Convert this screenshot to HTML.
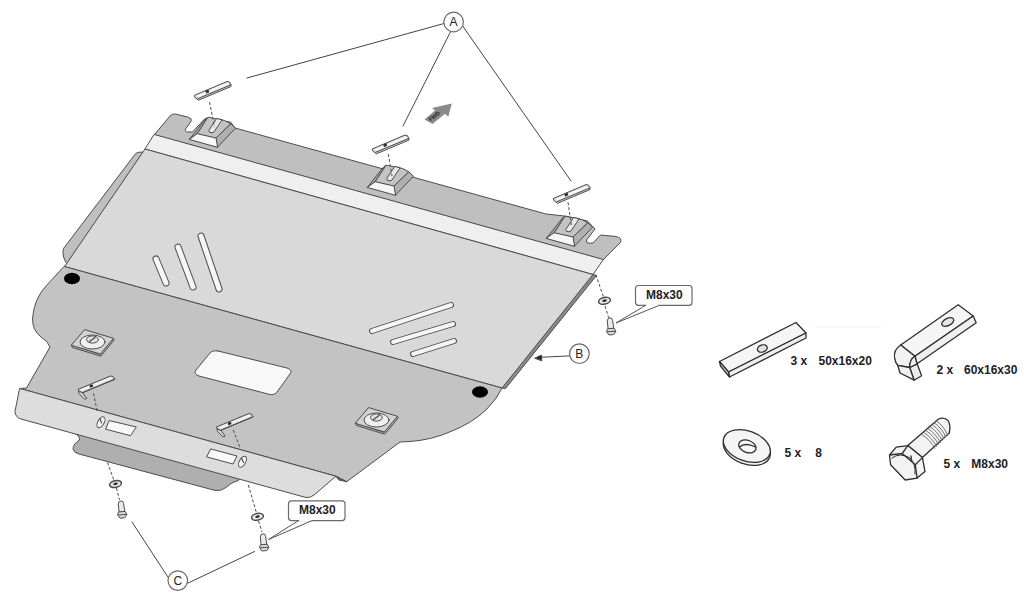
<!DOCTYPE html>
<html><head><meta charset="utf-8"><style>
html,body{margin:0;padding:0;background:#fff;width:1024px;height:602px;overflow:hidden}
svg{display:block}
text{font-family:"Liberation Sans",sans-serif;fill:#222}
</style></head><body>
<svg width="1024" height="602" viewBox="0 0 1024 602">

<path d="M815,327 L882,327" stroke="#f6f6f6" stroke-width="1.5" fill="none"/>
<g stroke="#4d4d4d" stroke-width="1" stroke-linejoin="round" stroke-linecap="round">
<path fill="#bfbfbf" d="M154.5,134.5 L170,116 Q172,113.5 175.5,114 L188.5,117.3 Q192.5,118.5 191,121.5 L185.5,129 Q184.5,132 188,132 L192.5,132 L205,118.5 L230.5,122 L235,128 L546,214 L566,216.2 L587.5,221 L595,229 L586.5,240 Q586,243.2 589,243.2 L593,243 L600.5,235 L616,236.5 Q622.5,238 620.5,242.5 L603.4,259.5 Z"/>
<path fill="#efefef" d="M154.5,134.5 L603.4,259.5 L593,274.5 L145.3,149.1 Z"/>
<path fill="#bfbfbf" d="M143,152 L138.5,152.3 Q136,152.5 134.5,155 L63.5,248.5 Q61.5,256 66.7,263.6 Z"/>
<path fill="#8a8a8a" d="M593,274.5 L596.5,275.5 L505.5,388.5 L502,388 Z"/>
<path fill="#d9d9d9" d="M145.3,149.1 L593,274.5 L502,388 L64.4,266.5 L66.7,263.4 L143,152 Z"/>
<path fill="#afafaf" d="M74,431 L74,433 Q80,436 79.5,440 Q73,444 73,449 Q74,453 79,454 L215,490.4 Q221,491.5 226,487.5 Q230,484 233,482.5 L238.5,480.5 L240,476 Z"/>
<path fill="#c3c3c3" d="M64.4,266.5 L502,388 Q497,399 486,410 Q472,423 452,431 Q432,440 410,441.5 L400,442 L346.7,481.7 L336,476.2 L20,388.5 L26.5,388 L50,347 Q48,341 41,337 Q32,330 32.6,318 Q34,299 46,286 Z"/>
<path fill="#dddddd" d="M20,388.5 L336,476.2 L314,495 Q311,497.8 306,497.5 L21,419 Q15.5,417.5 15,412 Z"/>
<path fill="#6a6a6a" d="M336,476.2 L346.7,481.7 L339,480 Z"/>
<g transform="translate(0,0)"><path fill="#a8a8a8" d="M189.5,139.2 L205.5,119 L208,117.2 L197.2,133.7 Z"/><path fill="#c4c4c4" d="M197.2,133.7 L208,117.2 L224.5,120.5 L230.8,123.8 L216,138 Z"/><path fill="#b0b0b0" d="M216,138 L230.8,123.8 L235.5,128.2 L217.6,147 Z"/><path fill="#f7f7f7" d="M189.5,139.2 L197.2,133.7 L216,138 L217.6,147 Z"/><path fill="#e9e9e9" d="M216.5,118.8 L208.8,130.5 Q208.5,133 212,132.8 L213.8,132.2 L222,120 Z"/></g>
<g transform="translate(178,48)"><path fill="#a8a8a8" d="M189.5,139.2 L205.5,119 L208,117.2 L197.2,133.7 Z"/><path fill="#c4c4c4" d="M197.2,133.7 L208,117.2 L224.5,120.5 L230.8,123.8 L216,138 Z"/><path fill="#b0b0b0" d="M216,138 L230.8,123.8 L235.5,128.2 L217.6,147 Z"/><path fill="#f7f7f7" d="M189.5,139.2 L197.2,133.7 L216,138 L217.6,147 Z"/><path fill="#e9e9e9" d="M216.5,118.8 L208.8,130.5 Q208.5,133 212,132.8 L213.8,132.2 L222,120 Z"/></g>
<g transform="translate(357,99)"><path fill="#a8a8a8" d="M189.5,139.2 L205.5,119 L208,117.2 L197.2,133.7 Z"/><path fill="#c4c4c4" d="M197.2,133.7 L208,117.2 L224.5,120.5 L230.8,123.8 L216,138 Z"/><path fill="#b0b0b0" d="M216,138 L230.8,123.8 L235.5,128.2 L217.6,147 Z"/><path fill="#f7f7f7" d="M189.5,139.2 L197.2,133.7 L216,138 L217.6,147 Z"/><path fill="#e9e9e9" d="M216.5,118.8 L208.8,130.5 Q208.5,133 212,132.8 L213.8,132.2 L222,120 Z"/></g>
<g fill="none">
<path d="M156,259 L166,283" stroke-width="7" stroke="#4d4d4d"/><path d="M156,259 L166,283" stroke-width="5" stroke="#f6f6f6"/>
<path d="M178,247 L193,287" stroke-width="7" stroke="#4d4d4d"/><path d="M178,247 L193,287" stroke-width="5" stroke="#f6f6f6"/>
<path d="M201,236 L219,289" stroke-width="7" stroke="#4d4d4d"/><path d="M201,236 L219,289" stroke-width="5" stroke="#f6f6f6"/>
<path d="M372,331 L451,305" stroke-width="6" stroke="#4d4d4d"/><path d="M372,331 L451,305" stroke-width="4" stroke="#f6f6f6"/>
<path d="M393,342 L453,324" stroke-width="6" stroke="#4d4d4d"/><path d="M393,342 L453,324" stroke-width="4" stroke="#f6f6f6"/>
<path d="M413,354 L454,341" stroke-width="6" stroke="#4d4d4d"/><path d="M413,354 L454,341" stroke-width="4" stroke="#f6f6f6"/>
</g>
<path fill="#f8f8f8" d="M218,351 L287,368 Q293,370 290,374 L277,392 Q274,396 268,394 L199,376 Q193,374 196,370 L210,353 Q213,350 218,351 Z"/>
<ellipse cx="72" cy="278.5" rx="8" ry="5.8" fill="#000" stroke="none"/>
<ellipse cx="480" cy="392" rx="8" ry="5.8" fill="#000" stroke="none"/>
<g transform="translate(0,0)"><path fill="#b8b8b8" d="M71.6,345.4 L72.2,347.4 L100.8,356.2 L114,340.2 L113.5,338.3 L100.4,354 Z"/><path fill="#d2d2d2" d="M85,329.7 L113.5,338.3 L100.4,354 L71.6,345.4 Z"/><ellipse cx="92.5" cy="342" rx="12.5" ry="7" fill="#efefef"/><ellipse cx="92.5" cy="339.5" rx="6" ry="3.6" fill="#e2e2e2"/><path d="M89.5,341.5 L95,337.5" stroke-width="1.4"/></g>
<g transform="translate(284,78)"><path fill="#b8b8b8" d="M71.6,345.4 L72.2,347.4 L100.8,356.2 L114,340.2 L113.5,338.3 L100.4,354 Z"/><path fill="#d2d2d2" d="M85,329.7 L113.5,338.3 L100.4,354 L71.6,345.4 Z"/><ellipse cx="92.5" cy="342" rx="12.5" ry="7" fill="#efefef"/><ellipse cx="92.5" cy="339.5" rx="6" ry="3.6" fill="#e2e2e2"/><path d="M89.5,341.5 L95,337.5" stroke-width="1.4"/></g>
<ellipse cx="101" cy="422.3" rx="3.1" ry="6" fill="#f6f6f6" transform="rotate(30 101 422.3)"/>
<path fill="#f8f8f8" d="M109.5,420.6 L136.3,427 L130.5,435.7 L106,429.3 Z"/>
<path fill="#f8f8f8" d="M211,449 L237,456 L233,464 L207,457 Z"/>
<ellipse cx="242.5" cy="461.7" rx="3.1" ry="6" fill="#f6f6f6" transform="rotate(30 242.5 461.7)"/><path d="M241.5,458 L243.5,462.5" stroke-width="1.2"/><path d="M99.8,418.5 L101.6,423" stroke-width="1.2"/>
<g transform="translate(0,0)"><path fill="#d8d8d8" d="M79,391 L82.5,392.7 L86.8,398.5 L84.5,399.2 L79.3,393.8 Z"/><path fill="#d4d4d4" d="M78.4,389.2 L110.5,376 L113,376.5 L114.7,379.3 L82.5,392.7 L79,391 Z"/><path fill="#f2f2f2" stroke="none" d="M80,389.6 L111,377 L113.2,378.3 L81.8,391.3 Z"/><path fill="none" d="M82.5,392.7 L114.7,379.3"/><path fill="#222" stroke="none" d="M89.5,385.5 L92.5,384.2 L93.2,386.5 L90.2,387.8 Z"/></g>
<g transform="translate(138.3,37.6)"><path fill="#d8d8d8" d="M79,391 L82.5,392.7 L86.8,398.5 L84.5,399.2 L79.3,393.8 Z"/><path fill="#d4d4d4" d="M78.4,389.2 L110.5,376 L113,376.5 L114.7,379.3 L82.5,392.7 L79,391 Z"/><path fill="#f2f2f2" stroke="none" d="M80,389.6 L111,377 L113.2,378.3 L81.8,391.3 Z"/><path fill="none" d="M82.5,392.7 L114.7,379.3"/><path fill="#222" stroke="none" d="M89.5,385.5 L92.5,384.2 L93.2,386.5 L90.2,387.8 Z"/></g>
<g transform="translate(0,0)"><path fill="#d8d8d8" d="M194.7,95.2 L227,81.5 L229.5,82 L231,85 L231,86.5 L198.5,100.2 L195,97.5 Z"/><path fill="#f6f6f6" stroke="none" d="M196.5,95.6 L227.3,82.6 L229.5,84.3 L198.2,97.6 Z"/><path fill="none" d="M198,98.6 L231,84.8"/><path fill="#333" stroke="none" d="M205.3,90.8 L208.5,89.4 L209.3,92.2 L206.1,93.6 Z"/></g>
<g transform="translate(177.9,53.6)"><path fill="#d8d8d8" d="M194.7,95.2 L227,81.5 L229.5,82 L231,85 L231,86.5 L198.5,100.2 L195,97.5 Z"/><path fill="#f6f6f6" stroke="none" d="M196.5,95.6 L227.3,82.6 L229.5,84.3 L198.2,97.6 Z"/><path fill="none" d="M198,98.6 L231,84.8"/><path fill="#333" stroke="none" d="M205.3,90.8 L208.5,89.4 L209.3,92.2 L206.1,93.6 Z"/></g>
<g transform="translate(359,103.1)"><path fill="#d8d8d8" d="M194.7,95.2 L227,81.5 L229.5,82 L231,85 L231,86.5 L198.5,100.2 L195,97.5 Z"/><path fill="#f6f6f6" stroke="none" d="M196.5,95.6 L227.3,82.6 L229.5,84.3 L198.2,97.6 Z"/><path fill="none" d="M198,98.6 L231,84.8"/><path fill="#333" stroke="none" d="M205.3,90.8 L208.5,89.4 L209.3,92.2 L206.1,93.6 Z"/></g>
<g fill="none" stroke-dasharray="3,2" stroke-linecap="butt">
<path d="M209.5,102 L214.5,127"/>
<path d="M388.3,154 L392,176"/>
<path d="M568,202.3 L571.5,226"/>
<path d="M595.8,274.7 L603.4,296.7"/>
<path d="M605,306 L608.6,317.7"/>
<path d="M93.5,393.3 L97.5,412.5"/>
<path d="M107.5,462.5 L114,480.5"/>
<path d="M116.5,488 L119.5,500"/>
<path d="M233.3,430 L240,447.5"/>
<path d="M248.3,485 L256.5,513"/>
<path d="M258.5,521 L262,532"/>
</g>
<g transform="translate(0,0)"><ellipse cx="604.5" cy="300.8" rx="6" ry="3.3" fill="#e6e6e6" stroke-width="1.5" transform="rotate(-12 604.5 300.8)"/><ellipse cx="604.5" cy="300.6" rx="2.3" ry="1.2" fill="#222" stroke="none" transform="rotate(-12 604.5 300.8)"/><path fill="#eaeaea" d="M607.3,320.5 Q607.5,317.8 610,317.8 Q612.5,317.8 612.6,320.3 L613.8,328.5 L608.5,329 Z"/><path fill="#dcdcdc" d="M607.8,328.8 L614.2,328.2 L615.8,331.5 L613.8,334.5 L609,335 L606.8,332 Z"/><path fill="none" d="M607.2,331.8 L615.6,331.2"/></g>
<g transform="translate(-489,183.2)"><ellipse cx="604.5" cy="300.8" rx="6" ry="3.3" fill="#e6e6e6" stroke-width="1.5" transform="rotate(-12 604.5 300.8)"/><ellipse cx="604.5" cy="300.6" rx="2.3" ry="1.2" fill="#222" stroke="none" transform="rotate(-12 604.5 300.8)"/><path fill="#eaeaea" d="M607.3,320.5 Q607.5,317.8 610,317.8 Q612.5,317.8 612.6,320.3 L613.8,328.5 L608.5,329 Z"/><path fill="#dcdcdc" d="M607.8,328.8 L614.2,328.2 L615.8,331.5 L613.8,334.5 L609,335 L606.8,332 Z"/><path fill="none" d="M607.2,331.8 L615.6,331.2"/></g>
<g transform="translate(-347,216)"><ellipse cx="604.5" cy="300.8" rx="6" ry="3.3" fill="#e6e6e6" stroke-width="1.5" transform="rotate(-12 604.5 300.8)"/><ellipse cx="604.5" cy="300.6" rx="2.3" ry="1.2" fill="#222" stroke="none" transform="rotate(-12 604.5 300.8)"/><path fill="#eaeaea" d="M607.3,320.5 Q607.5,317.8 610,317.8 Q612.5,317.8 612.6,320.3 L613.8,328.5 L608.5,329 Z"/><path fill="#dcdcdc" d="M607.8,328.8 L614.2,328.2 L615.8,331.5 L613.8,334.5 L609,335 L606.8,332 Z"/><path fill="none" d="M607.2,331.8 L615.6,331.2"/></g>
<g fill="none" stroke="#444">
<path d="M247,78 L444,23.5"/>
<path d="M450.7,31.4 L403,126"/>
<path d="M462.4,25.7 L571,181"/>
<path d="M167.6,576.6 L132,522"/>
<path d="M187.6,583.3 L254.5,551.5"/>
<path d="M569.5,355.9 L540,357.3"/>
</g>
<path d="M535,358.1 L541.5,355 L541.8,360.5 Z" fill="#222"/>
<path fill="#8a8a8a" stroke="none" d="M424.5,119.5 L435,110.5 L432,108 L451.8,103.5 L448.3,116.8 L445,113.8 L432.5,124 Z"/>
<text x="0" y="0" font-size="5.5" font-weight="bold" fill="#222" stroke="none" transform="translate(430.5,121.5) rotate(-38)">FWD</text>
<circle cx="453.6" cy="22" r="9.8" fill="#fff" stroke="#6a6a6a" stroke-width="1.2"/>
<circle cx="579.4" cy="353.7" r="9.8" fill="#fff" stroke="#6a6a6a" stroke-width="1.2"/>
<circle cx="177.8" cy="580.6" r="9.8" fill="#fff" stroke="#6a6a6a" stroke-width="1.2"/>
<rect x="635.5" y="285.5" width="56.5" height="19.8" rx="3" fill="#fff" stroke="#6a6a6a" stroke-width="1.2"/><path d="M646.7,305.3 L658.4,305.3" stroke="#fff" stroke-width="2"/><path fill="none" stroke="#555" d="M645.7,305.3 L616,323 L659.4,305.3"/>
<rect x="288.5" y="500.8" width="56.5" height="19.8" rx="3" fill="#fff" stroke="#6a6a6a" stroke-width="1.2"/><path d="M299.5,520.6 L311,520.6" stroke="#fff" stroke-width="2"/><path fill="none" stroke="#555" d="M298.5,520.6 L268.5,539.5 L312,520.6"/>
<g stroke="#2e2e2e" stroke-width="1.3">
<path fill="#f5f5f5" d="M719.5,361.5 L796,322.5 L806,333 L728.5,372 Z"/>
<path fill="#eeeeee" d="M728.5,372 L806,333 L806,338 L729.5,377 Z"/>
<path fill="#eeeeee" d="M719.5,361.5 L728.5,372 L729.5,377 L720.5,366 Z"/>
<ellipse cx="762.3" cy="348.5" rx="5" ry="3.5" fill="#e2e2e2" transform="rotate(-20 762.3 348.5)"/>
<path fill="#f5f5f5" d="M900.7,345 L958.2,304.7 L973.2,316 L914.9,356.3 Z"/>
<path fill="#efefef" d="M914.9,356.3 L973.2,316 L976.2,322.7 L917.1,363.8 Z"/>
<path fill="#f2f2f2" d="M900.7,345 Q893,350 894.7,358.5 Q895.5,363 897.7,365.3 L909.7,367.5 Q909.5,359.5 914.9,356.3 Z"/>
<path fill="#ededed" d="M909.7,367.5 L917.1,363.8 L921.6,375.7 L914.1,380.2 Z"/>
<path fill="#f0f0f0" d="M897.7,365.3 L909.7,367.5 L914.1,380.2 L900,373 Z"/>
<path fill="#f0f0f0" d="M914.9,356.3 L917.1,363.8 L909.7,367.5 Q909.5,359.5 914.9,356.3 Z"/>
<ellipse cx="947.8" cy="322" rx="6.5" ry="3.6" fill="#e6e6e6" transform="rotate(-28 947.8 322)"/>
<ellipse cx="746.8" cy="449" rx="24.4" ry="15" fill="#f2f2f2" transform="rotate(20 746.8 449)"/>
<ellipse cx="746.8" cy="446" rx="24.4" ry="15" fill="#f5f5f5" transform="rotate(20 746.8 446)"/>
<ellipse cx="747.4" cy="446.4" rx="9" ry="6" fill="#f7f7f7" transform="rotate(20 747.4 446.4)"/>
<path fill="none" d="M739.5,447 Q745,442 755.5,447"/>
<path fill="#f3f3f3" d="M907.8,445.6 L938.5,419 Q944,416.5 948,420.5 Q951,425 949.3,433 L922.4,457.6 Z"/>
<path fill="none" stroke-width="1" stroke="#777" d="M922.1,434.7 Q930.6,440.0 934.7,448.3 M924.2,432.8 Q932.6,438.1 936.5,446.4 M926.2,430.8 Q934.5,436.1 938.4,444.5 M928.3,428.8 Q936.4,434.2 940.2,442.6 M930.3,426.9 Q938.4,432.3 942.0,440.6 M932.4,424.9 Q940.3,430.3 943.8,438.7 M934.4,422.9 Q942.2,428.4 945.7,436.8 M936.5,421.0 Q944.2,426.4 947.5,434.9 "/>
<path fill="#f3f3f3" d="M889.5,455 L896.2,447.1 L907.8,445.6 L922.4,457.6 L925,471.4 L917.1,478.1 L905.2,480 L890.6,464.7 Z"/>
<path fill="none" d="M889.5,455 L902.2,453.5 L915.3,464.7 L917.1,478.1 M902.2,453.5 L907.8,445.6 M915.3,464.7 L922.4,457.6 M911,456 L911.5,460"/>
<path fill="none" stroke-width="1" d="M892,458 Q900,452 910,458 Q916,464 915,474"/>
</g>
</g>
<g font-size="12" font-weight="bold" fill="#2a2a2a">
<text x="646" y="299">M8x30</text>
<text x="299" y="514">M8x30</text>
<text x="790.5" y="365">3 x</text>
<text x="818.5" y="365">50x16x20</text>
<text x="936.5" y="374">2 x</text>
<text x="964" y="374">60x16x30</text>
<text x="784.5" y="456.7">5 x</text>
<text x="815.2" y="456.7">8</text>
<text x="943.5" y="467.8">5 x</text>
<text x="971.3" y="467.8">M8x30</text>
</g>
<g font-size="12" fill="#555">
<text x="449.6" y="26.2">A</text>
<text x="575.3" y="358.4">B</text>
<text x="173.5" y="584.9">C</text>
</g>
</svg>
</body></html>
